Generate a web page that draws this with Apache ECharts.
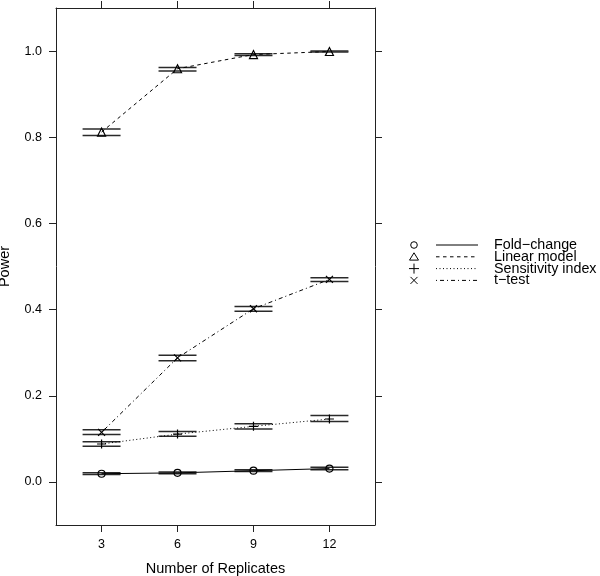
<!DOCTYPE html>
<html>
<head>
<meta charset="utf-8">
<script src="https://cdn.jsdelivr.net/npm/echarts@6/dist/echarts.min.js"></script>
<style>html,body{margin:0;padding:0;background:#fff;}#c{width:600px;height:576px;}</style>
</head>
<body>
<div id="c"></div>
<script>
var replicates = [3, 6, 9, 12];
var xTicks = [3, 6, 9, 12];
var yTicks = [0, 0.2, 0.4, 0.6, 0.8, 1.0];

var foldChange   = [0.019, 0.021, 0.026, 0.031];
var foldLo       = [0.017, 0.019, 0.024, 0.028];
var foldHi       = [0.021, 0.023, 0.028, 0.034];

var linearModel  = [0.812, 0.959, 0.992, 0.999];
var linearLo     = [0.804, 0.954, 0.990, 0.998];
var linearHi     = [0.819, 0.962, 0.994, 1.000];

var sensIndex    = [0.088, 0.111, 0.129, 0.146];
var sensLo       = [0.083, 0.106, 0.123, 0.140];
var sensHi       = [0.093, 0.117, 0.135, 0.154];

var tTest        = [0.115, 0.288, 0.402, 0.470];
var tTestLo      = [0.110, 0.281, 0.396, 0.465];
var tTestHi      = [0.121, 0.294, 0.407, 0.474];

var seriesNames = ['Fold\u2212change', 'Linear model', 'Sensitivity index', 't\u2212test'];

var FONT = '"Liberation Sans", Arial, Helvetica, sans-serif';
var PLUS = 'path://M5,0 L5,10 M0,5 L10,5';
var CROSS = 'path://M0,0 L10,10 M0,10 L10,0';

function pts(vals) { return replicates.map(function (x, i) { return [x, vals[i]]; }); }
function ci(lo, hi) { return replicates.map(function (x, i) { return [x, lo[i], hi[i]]; }); }

function errRender(params, api) {
  var x = api.value(0), lo = api.value(1), hi = api.value(2);
  var a1 = api.coord([x - 0.75, lo]), a2 = api.coord([x + 0.75, lo]);
  var b1 = api.coord([x - 0.75, hi]), b2 = api.coord([x + 0.75, hi]);
  var st = { stroke: '#2a2a2a', lineWidth: 1.5 };
  return {
    type: 'group',
    children: [
      { type: 'line', shape: { x1: a1[0], y1: a1[1], x2: a2[0], y2: a2[1] }, style: st },
      { type: 'line', shape: { x1: b1[0], y1: b1[1], x2: b2[0], y2: b2[1] }, style: st }
    ]
  };
}

function lineSeries(name, vals, dash, symbol, size) {
  return {
    name: name, type: 'line', data: pts(vals), z: 5,
    symbol: symbol, symbolSize: size,
    lineStyle: { color: '#000', width: 1, type: dash },
    itemStyle: { color: 'transparent', borderColor: '#000', borderWidth: 1.2 },
    emphasis: { disabled: true },
    animation: false
  };
}
function errSeries(lo, hi) {
  return { type: 'custom', data: ci(lo, hi), renderItem: errRender, z: 3, animation: false, silent: true };
}

var dashes = ['solid', [3.5, 3.5], [1, 2.5], [1, 3, 4, 3]];

// legend graphic
var legX = 414, lineX1 = 436, lineX2 = 478, textX = 494, legY0 = 245, legDy = 11.8;
var legendSymbols = ['circle', 'triangle', 'plus', 'cross'];
var graphics = [];
seriesNames.forEach(function (n, i) {
  var y = legY0 + i * legDy;
  var st = { stroke: '#000', fill: 'none', lineWidth: 1 };
  var s = legendSymbols[i];
  if (s === 'circle') graphics.push({ type: 'circle', shape: { cx: legX, cy: y, r: 3.3 }, style: st });
  if (s === 'triangle') graphics.push({ type: 'polygon', shape: { points: [[legX, y - 4], [legX - 4.5, y + 3.3], [legX + 4.5, y + 3.3]] }, style: st });
  if (s === 'plus') graphics.push({ type: 'group', children: [
    { type: 'line', shape: { x1: legX - 5, y1: y, x2: legX + 5, y2: y }, style: st },
    { type: 'line', shape: { x1: legX, y1: y - 5, x2: legX, y2: y + 5 }, style: st }] });
  if (s === 'cross') graphics.push({ type: 'group', children: [
    { type: 'line', shape: { x1: legX - 3.5, y1: y - 3.5, x2: legX + 3.5, y2: y + 3.5 }, style: st },
    { type: 'line', shape: { x1: legX - 3.5, y1: y + 3.5, x2: legX + 3.5, y2: y - 3.5 }, style: st }] });
  var d = dashes[i];
  graphics.push({ type: 'line', shape: { x1: lineX1, y1: y, x2: lineX2, y2: y },
    style: { stroke: '#000', lineWidth: 1, lineDash: d === 'solid' ? null : d } });
  graphics.push({ type: 'text', x: textX, y: y, style: { text: n, font: '14.3px ' + FONT, fill: '#000', verticalAlign: 'middle' } });
});

var axisLineStyle = { color: '#222', width: 1 };
var tickStyle = { color: '#222', width: 1 };

var option = {
  backgroundColor: '#fff',
  animation: false,
  grid: { left: 56, right: 225, top: 8, bottom: 51, containLabel: false, outerBoundsMode: 'none' },
  xAxis: [
    { type: 'value', min: 1.2, max: 13.8, position: 'bottom',
      name: 'Number of Replicates', nameLocation: 'middle', nameGap: 36,
      nameTextStyle: { fontFamily: FONT, fontSize: 14.5, color: '#000' },
      axisLine: { show: true, onZero: false, lineStyle: axisLineStyle },
      axisTick: { show: true, inside: false, length: 7, lineStyle: tickStyle, customValues: xTicks },
      axisLabel: { show: true, margin: 13, fontFamily: FONT, fontSize: 12.5, color: '#000', customValues: xTicks },
      splitLine: { show: false } },
    { type: 'value', min: 1.2, max: 13.8, position: 'top',
      axisLine: { show: true, onZero: false, lineStyle: axisLineStyle },
      axisTick: { show: true, inside: false, length: 7, lineStyle: tickStyle, customValues: xTicks },
      axisLabel: { show: false, customValues: xTicks },
      splitLine: { show: false } }
  ],
  yAxis: [
    { type: 'value', min: -0.1, max: 1.1, position: 'left',
      name: 'Power', nameLocation: 'middle', nameGap: 44,
      nameTextStyle: { fontFamily: FONT, fontSize: 14.5, color: '#000' },
      axisLine: { show: true, onZero: false, lineStyle: axisLineStyle },
      axisTick: { show: true, inside: false, length: 7, lineStyle: tickStyle, customValues: yTicks },
      axisLabel: { show: true, margin: 14, fontFamily: FONT, fontSize: 12.5, color: '#000', customValues: yTicks,
        formatter: function (v) { return v.toFixed(1); } },
      splitLine: { show: false } },
    { type: 'value', min: -0.1, max: 1.1, position: 'right',
      axisLine: { show: true, onZero: false, lineStyle: axisLineStyle },
      axisTick: { show: true, inside: false, length: 7, lineStyle: tickStyle, customValues: yTicks },
      axisLabel: { show: false, customValues: yTicks },
      splitLine: { show: false } }
  ],
  series: [
    errSeries(foldLo, foldHi),
    errSeries(linearLo, linearHi),
    errSeries(sensLo, sensHi),
    errSeries(tTestLo, tTestHi),
    lineSeries(seriesNames[0], foldChange, dashes[0], 'circle', 7),
    lineSeries(seriesNames[1], linearModel, dashes[1], 'triangle', 8),
    lineSeries(seriesNames[2], sensIndex, dashes[2], PLUS, 9),
    lineSeries(seriesNames[3], tTest, dashes[3], CROSS, 7)
  ],
  graphic: graphics
};

var chart = echarts.init(document.getElementById('c'), null, { renderer: 'canvas' });
chart.setOption(option);
</script>
</body>
</html>
